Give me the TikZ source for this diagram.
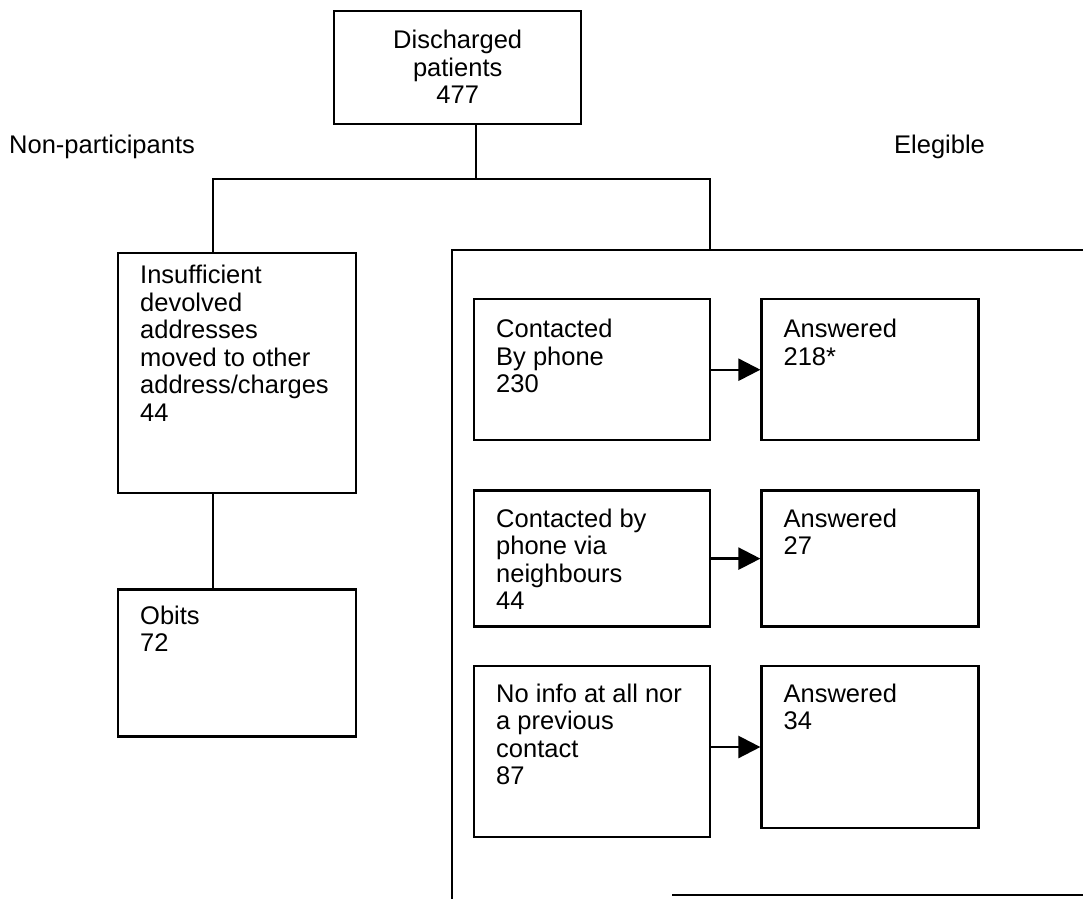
\documentclass[tikz,border=0pt]{standalone}
\usepackage{fontspec}
\setmainfont{Liberation Sans}
\usetikzlibrary{positioning,arrows.meta}

% box text: width, height, top gap, lines
\newcommand{\cellbox}[4]{\parbox[c][#2][t]{#1}{\vspace*{#3}\raggedright\leftskip=22pt\parindent=0pt #4}}
\newcommand{\headbox}[4]{\parbox[c][#2][t]{#1}{\vspace*{#3}\centering #4}}

\begin{document}
\begin{tikzpicture}[x=1pt, y=-1pt, line width=2.4pt,
        font=\fontsize{25.5}{27.5}\selectfont,
        cell/.style={rectangle, draw, inner sep=0pt, anchor=north west},
        arr/.style={-{Triangle[length=22pt,width=22pt]}}]
        \useasboundingbox (0,0) rectangle (1083,898);

        \node (discharged) [cell] at (333,10) {\headbox{247pt}{113pt}{19pt}{Discharged\\patients\\477}};

        \node (nonpart) [anchor=base west, inner sep=0pt] at (8,153) {Non-participants};
        \node (eligible) [anchor=base west, inner sep=0pt] at (893,153) {Elegible};

        \node (insufficient) [cell] at (117,252) {\cellbox{238pt}{240pt}{12pt}{Insufficient\\devolved\\addresses\\moved to other\\address/charges\\44}};
        \node (obits) [cell, below=94pt of insufficient] {\cellbox{238pt}{147pt}{16pt}{Obits\\72}};

        \node (byphone) [cell] at (473,298) {\cellbox{236pt}{141pt}{20pt}{Contacted\\By phone\\230}};
        \node (vianeigh) [cell, below=48pt of byphone] {\cellbox{236pt}{136pt}{18pt}{Contacted by\\phone via\\neighbours\\44}};
        \node (noinfo) [cell, below=37pt of vianeigh] {\cellbox{236pt}{171pt}{18pt}{No info at all nor\\a previous\\contact\\87}};

        \node (answphone) [cell, right=49pt of byphone] {\cellbox{217pt}{141pt}{20pt}{Answered\\218*}};
        \node (answneigh) [cell, right=49pt of vianeigh] {\cellbox{217pt}{136pt}{18pt}{Answered\\27}};
        \node (answnoinfo) [cell, right=49pt of noinfo.north east, anchor=north west] {\cellbox{217pt}{162pt}{18pt}{Answered\\34}};

        % tree lines
        \coordinate (fork) at (476,179);
        \coordinate (lefttap) at (213,179);
        \coordinate (righttap) at (710,179);
        \coordinate (frame) at (452,250);

        \draw (fork |- discharged.south) -- (fork);
        \draw (lefttap |- insufficient.north) |- (righttap) -- (righttap |- frame);
        \draw (lefttap |- insufficient.south) -- (lefttap |- obits.north);

        % eligible frame, open to the right
        \draw (1095,250) -- (frame) -- (452,905);
        \draw (672,895) -- (1095,895);

        \draw[arr] (byphone.east) -- (answphone.west);
        \draw[arr] (vianeigh.east) -- (answneigh.west);
        \draw[arr] (noinfo.east |- answnoinfo.west) -- (answnoinfo.west);
\end{tikzpicture}
\end{document}
